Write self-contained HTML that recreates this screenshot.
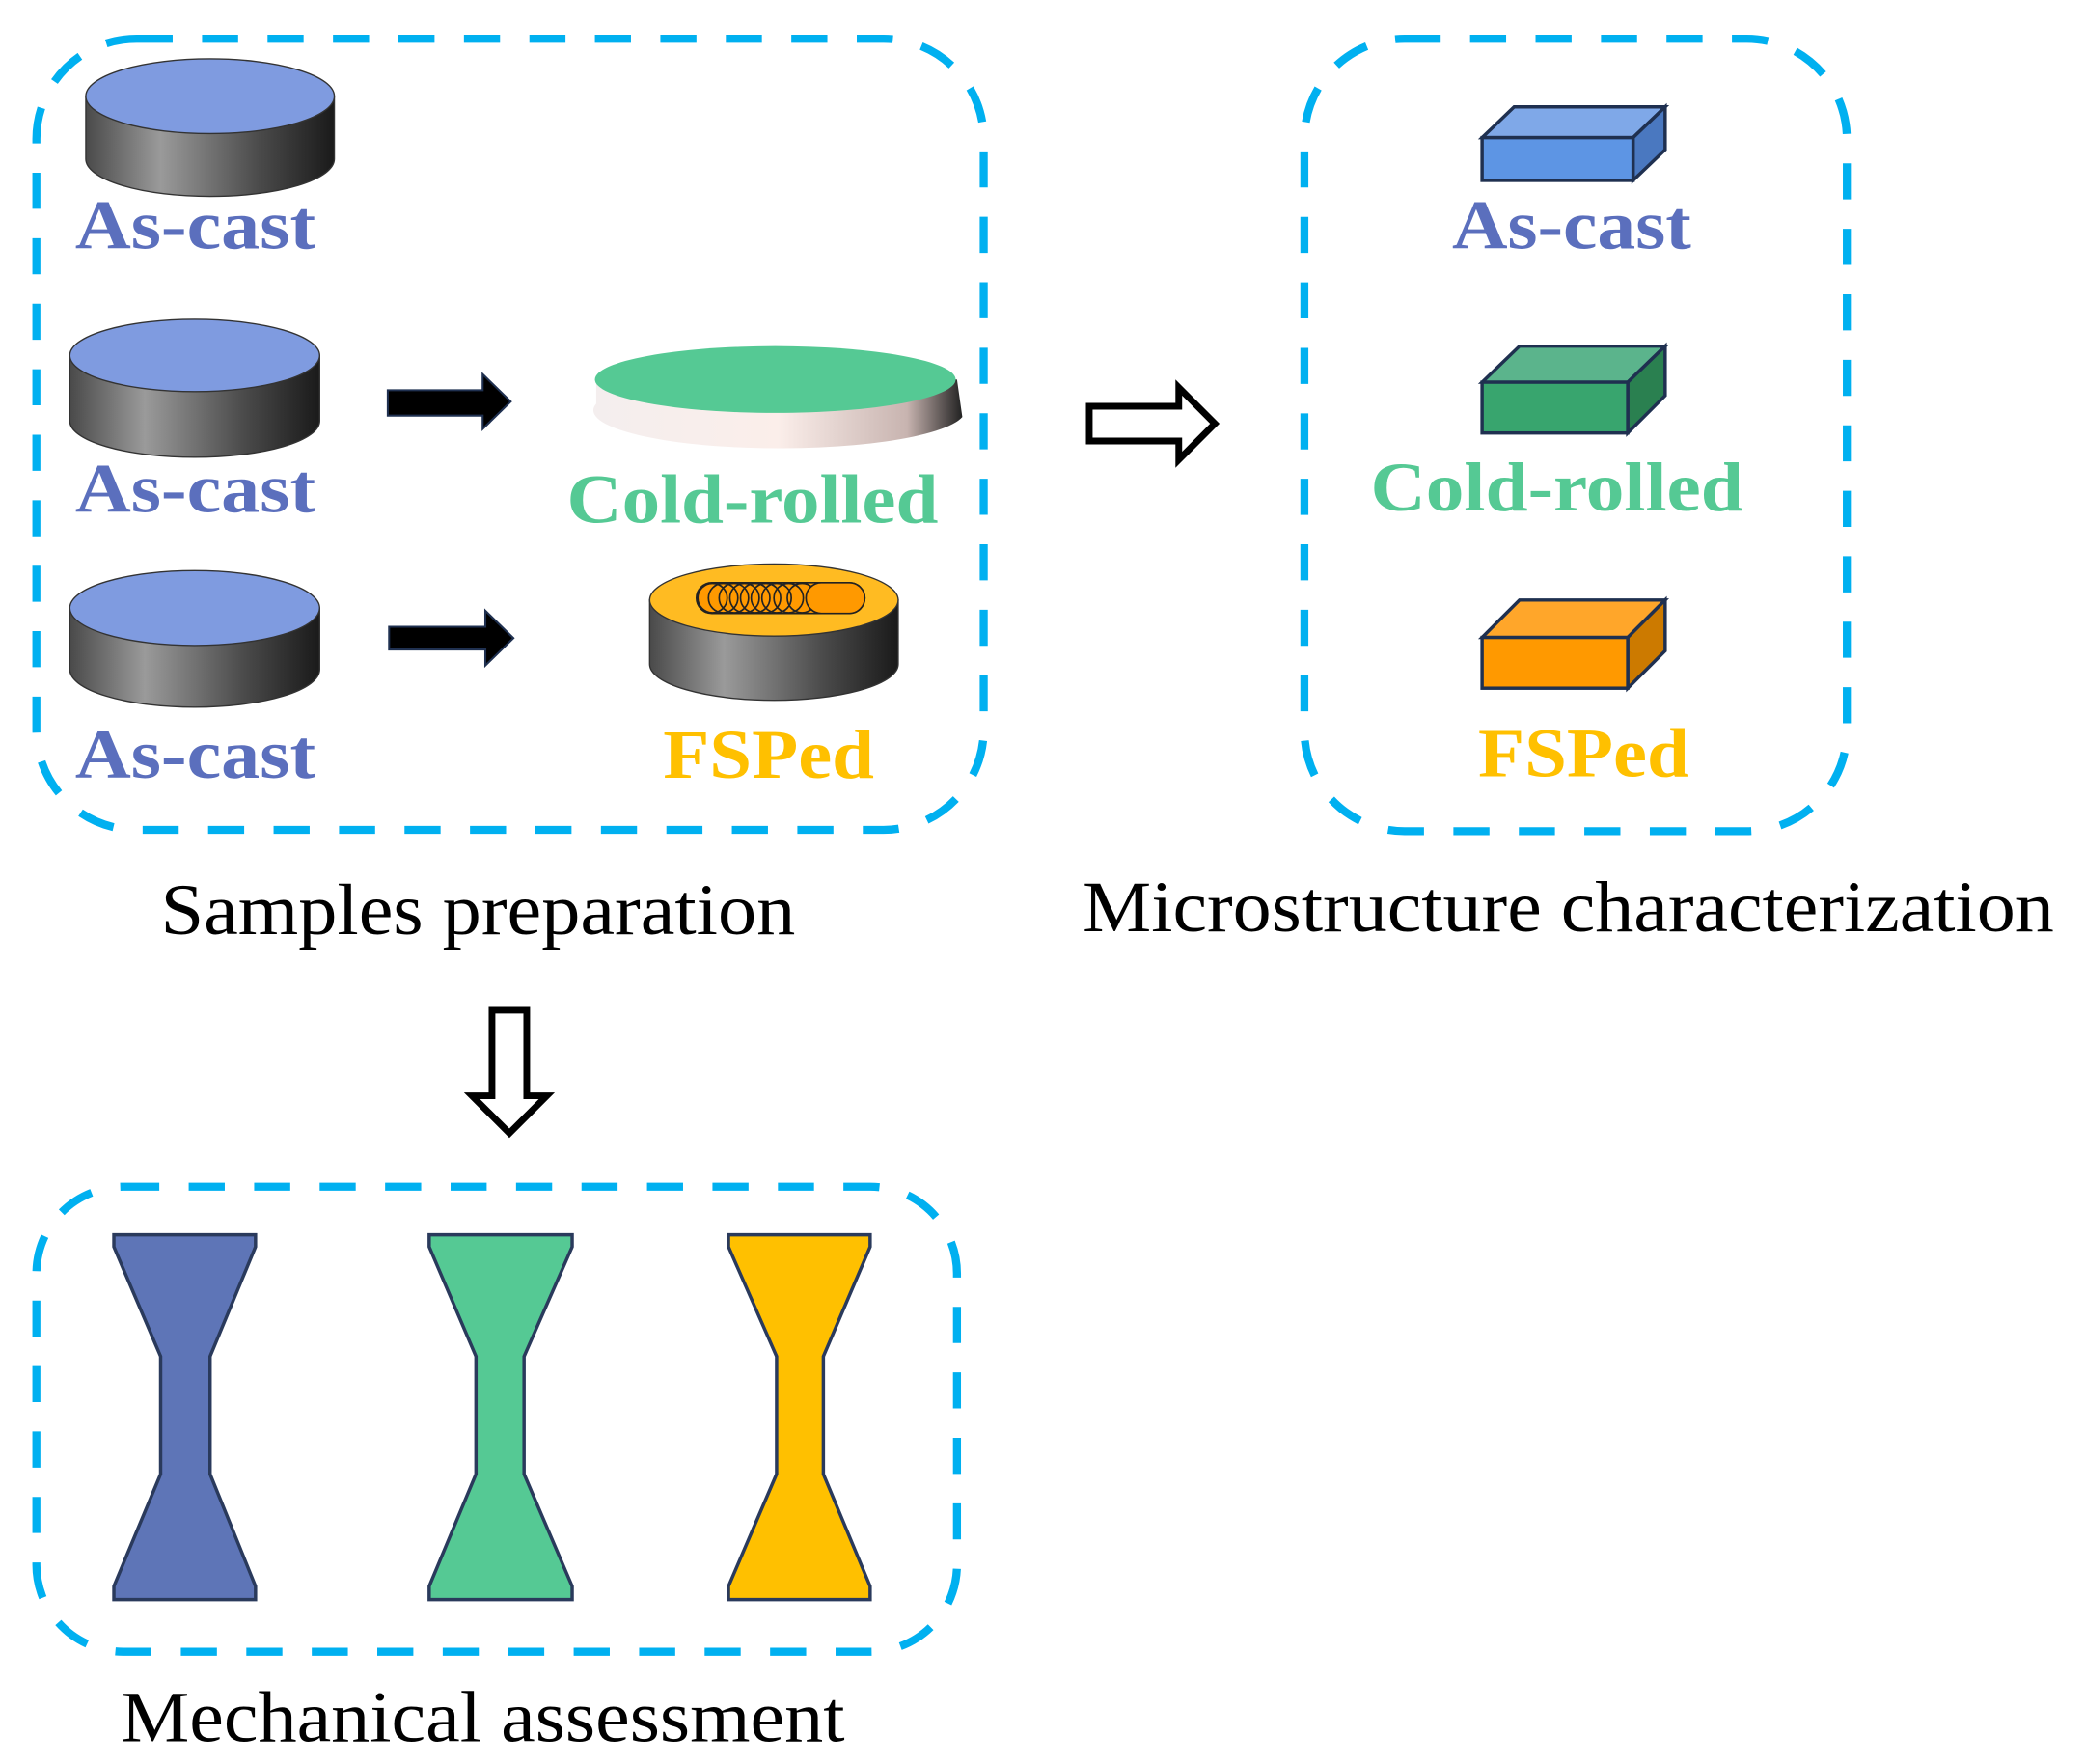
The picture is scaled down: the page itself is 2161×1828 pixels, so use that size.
<!DOCTYPE html>
<html><head><meta charset="utf-8"><style>html,body{margin:0;padding:0;background:#fff}svg{display:block}</style></head><body>
<svg width="2161" height="1828" viewBox="0 0 1560 1320" xmlns="http://www.w3.org/2000/svg">
<defs>
<linearGradient id="cyl" x1="0" x2="1" y1="0" y2="0">
<stop offset="0" stop-color="#4a4a4a"/><stop offset="0.3" stop-color="#9a9a9a"/><stop offset="0.7" stop-color="#4a4a4a"/><stop offset="1" stop-color="#1a1a1a"/>
</linearGradient>
<linearGradient id="disc" x1="0" x2="1" y1="0" y2="0">
<stop offset="0" stop-color="#f4eeee"/><stop offset="0.5" stop-color="#fbeeea"/><stop offset="0.85" stop-color="#c8b4b0"/><stop offset="1" stop-color="#222"/>
</linearGradient>
</defs>
<g fill="none" stroke="#00b0f0" stroke-width="6" stroke-dasharray="27 22">
<rect x="27" y="29" width="709" height="592" rx="75"/>
<rect x="976" y="29" width="406" height="593" rx="75"/>
<rect x="27" y="888" width="689" height="348" rx="65"/>
</g>
<!-- cylinders -->
<g stroke="#333" stroke-width="1">
<path d="M64 72 V119 A93 28 0 0 0 250 119 V72 Z" fill="url(#cyl)"/>
<ellipse cx="157" cy="72" rx="93" ry="28" fill="#7f9be0"/>
<path d="M52 266 V315 A93 27 0 0 0 239 315 V266 Z" fill="url(#cyl)"/>
<ellipse cx="145.5" cy="266" rx="93.5" ry="27" fill="#7f9be0"/>
<path d="M52 455 V501 A93 28 0 0 0 239 501 V455 Z" fill="url(#cyl)"/>
<ellipse cx="145.5" cy="455" rx="93.5" ry="28" fill="#7f9be0"/>
<path d="M486 449 V497 A93 27 0 0 0 672 497 V449 Z" fill="url(#cyl)"/>
<ellipse cx="579" cy="449" rx="93" ry="27" fill="#ffbb22"/>
</g>
<!-- cold rolled disc -->
<path d="M446 286 L446 302 A137 28 0 0 0 720 312 L716 284 Z" fill="url(#disc)"/>
<ellipse cx="580" cy="284" rx="135" ry="25" fill="#55c994"/>
<!-- stir zone -->
<g stroke="#222" stroke-width="1.2" fill="#ff9900">
<rect x="521" y="436" width="126" height="23" rx="11.5"/>
<g fill="none">
<ellipse cx="533" cy="447.5" rx="11" ry="11"/><ellipse cx="541" cy="447.5" rx="11" ry="11"/><ellipse cx="549" cy="447.5" rx="11" ry="11"/><ellipse cx="557" cy="447.5" rx="11" ry="11"/><ellipse cx="565" cy="447.5" rx="11" ry="11"/><ellipse cx="573" cy="447.5" rx="11" ry="11"/><ellipse cx="581" cy="447.5" rx="11" ry="11"/><ellipse cx="590" cy="447.5" rx="11" ry="11"/><ellipse cx="600" cy="447.5" rx="11" ry="11"/>
</g>
<rect x="603" y="436" width="44" height="23" rx="11.5" fill="#ff9900"/>
</g>
<!-- black arrows -->
<g fill="#000" stroke="#1f3050" stroke-width="1.5">
<path d="M290 292 H361 V280 L382 300.5 L361 321 V311 H290 Z"/>
<path d="M291 469 H363 V457 L384 477.5 L363 498 V486 H291 Z"/>
</g>
<!-- hollow arrows -->
<g fill="#fff" stroke="#000" stroke-width="5">
<path d="M815 304 H882 V290 L909 317 L882 344 V330 H815 Z"/>
<path d="M368 756 H394 V820 H409 L381 848 L353 820 H368 Z"/>
</g>
<!-- cubes -->
<g stroke="#1f3050" stroke-width="2.5" stroke-linejoin="miter">
<path d="M1109 103 L1133 80 H1246 L1222 103 Z" fill="#7fa8e8"/>
<path d="M1222 103 L1246 80 V112 L1222 135 Z" fill="#4a78c0"/>
<rect x="1109" y="103" width="113" height="32" fill="#5d95e4"/>
<path d="M1109 286 L1137 259 H1246 L1218 286 Z" fill="#5bb48c"/>
<path d="M1218 286 L1246 259 V296 L1218 324 Z" fill="#2a8050"/>
<rect x="1109" y="286" width="109" height="38" fill="#38a56e"/>
<path d="M1109 477 L1137 449 H1246 L1218 477 Z" fill="#ffa62a"/>
<path d="M1218 477 L1246 449 V487 L1218 515 Z" fill="#cc7a00"/>
<rect x="1109" y="477" width="109" height="38" fill="#ff9900"/>
</g>
<!-- specimens -->
<g stroke="#2a3a5c" stroke-width="2.5">
<path d="M85 924 H191 V933 L157 1015 V1103 L191 1187 V1197 H85 V1187 L120 1103 V1015 L85 933 Z" fill="#5e75b7"/>
<path d="M321 924 H428 V933 L392 1015 V1103 L428 1187 V1197 H321 V1187 L356 1103 V1015 L321 933 Z" fill="#55c994"/>
<path d="M545 924 H651 V933 L616 1015 V1103 L651 1187 V1197 H545 V1187 L581 1103 V1015 L545 933 Z" fill="#ffc000"/>
</g>
<!-- labels -->
<g font-family="Liberation Serif, serif" font-weight="bold" font-size="52">
<text x="146" y="186" text-anchor="middle" fill="#5b6fbd" textLength="180" lengthAdjust="spacingAndGlyphs">As-cast</text>
<text x="146" y="383" text-anchor="middle" fill="#5b6fbd" textLength="180" lengthAdjust="spacingAndGlyphs">As-cast</text>
<text x="146" y="582" text-anchor="middle" fill="#5b6fbd" textLength="180" lengthAdjust="spacingAndGlyphs">As-cast</text>
<text x="563" y="391" text-anchor="middle" fill="#55c994" textLength="278" lengthAdjust="spacingAndGlyphs">Cold-rolled</text>
<text x="575" y="582" text-anchor="middle" fill="#ffc000" textLength="158" lengthAdjust="spacingAndGlyphs">FSPed</text>
<text x="1176" y="186" text-anchor="middle" fill="#5b6fbd" textLength="179" lengthAdjust="spacingAndGlyphs">As-cast</text>
<text x="1165" y="382" text-anchor="middle" fill="#55c994" textLength="279" lengthAdjust="spacingAndGlyphs">Cold-rolled</text>
<text x="1185" y="581" text-anchor="middle" fill="#ffc000" textLength="158" lengthAdjust="spacingAndGlyphs">FSPed</text>
</g>
<g font-family="Liberation Serif, serif" font-size="54" fill="#000">
<text x="120" y="699" textLength="475" lengthAdjust="spacingAndGlyphs">Samples preparation</text>
<text x="810" y="697" textLength="727" lengthAdjust="spacingAndGlyphs">Microstructure characterization</text>
<text x="90" y="1303" textLength="542" lengthAdjust="spacingAndGlyphs">Mechanical assessment</text>
</g>
</svg>
</body></html>
